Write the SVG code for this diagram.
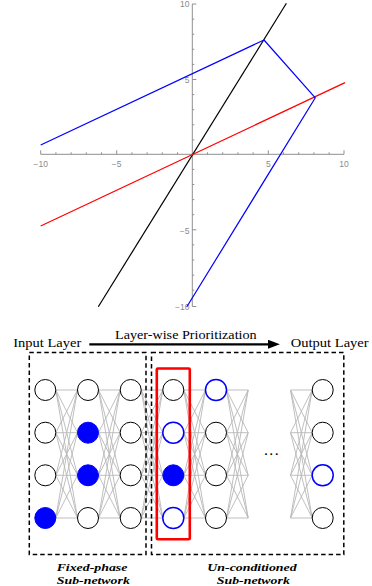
<svg xmlns="http://www.w3.org/2000/svg" width="372" height="586" viewBox="0 0 372 586">
<defs>
<style>
.ax{stroke:#8f8f8f;stroke-width:1;fill:none}
.al{font-family:"Liberation Sans",Arial,sans-serif;font-size:8.5px;fill:#8a8a8a}
.e{stroke:#b8b8b8;stroke-width:0.9;fill:none}
.n{fill:#fff;stroke:#000;stroke-width:1}
.nb{fill:#fff;stroke:#0000ff;stroke-width:1.5}
.nf{fill:#0000ff;stroke:#0000ff;stroke-width:1}
.box{fill:none;stroke:#000;stroke-width:1.5;stroke-dasharray:4.5 3}
.t{font-family:"Liberation Serif","Times New Roman",serif;font-size:12.5px;fill:#000}
.lb{font-family:"Liberation Serif","Times New Roman",serif;font-size:11px;font-weight:bold;font-style:italic;fill:#000}
</style>
<marker id="ah" viewBox="0 0 10 10" refX="1" refY="5" markerWidth="5.5" markerHeight="4.2" orient="auto" markerUnits="strokeWidth" preserveAspectRatio="none">
<path d="M0 0L10 5L0 10z" fill="#000"/>
</marker>
</defs>
<rect width="372" height="586" fill="#fff"/>

<g id="plot">
<path class="ax" d="M40.7 154.3H344M192.3 4V306.5"/>
<path class="ax" d="M40.7 154.3v-4M55.9 154.3v-2M71.1 154.3v-2M86.3 154.3v-2M101.5 154.3v-2M116.7 154.3v-4M131.9 154.3v-2M147.1 154.3v-2M162.3 154.3v-2M177.5 154.3v-2M207.5 154.3v-2M222.7 154.3v-2M237.9 154.3v-2M253.1 154.3v-2M268.3 154.3v-4M283.5 154.3v-2M298.7 154.3v-2M313.9 154.3v-2M329.1 154.3v-2M344 154.3v-4"/>
<path class="ax" d="M192.3 4h4M192.3 19.1h2M192.3 34.2h2M192.3 49.3h2M192.3 64.4h2M192.3 79.5h4M192.3 94.6h2M192.3 109.7h2M192.3 124.8h2M192.3 139.9h2M192.3 169.4h2M192.3 184.5h2M192.3 199.6h2M192.3 214.7h2M192.3 229.8h4M192.3 244.9h2M192.3 260h2M192.3 275.1h2M192.3 290.2h2M192.3 306.5h4"/>
<text class="al" x="40.7" y="166.5" text-anchor="middle">−10</text>
<text class="al" x="116.7" y="166.5" text-anchor="middle">−5</text>
<text class="al" x="268.3" y="166.5" text-anchor="middle">5</text>
<text class="al" x="344" y="166.5" text-anchor="middle">10</text>
<text class="al" x="189.5" y="7" text-anchor="end">10</text>
<text class="al" x="189.5" y="82.5" text-anchor="end">5</text>
<text class="al" x="189.5" y="234" text-anchor="end">−5</text>
<text class="al" x="189.5" y="310" text-anchor="end">−10</text>
<path d="M98.3 306.7L286.4 3.3" stroke="#000" stroke-width="1.2" fill="none"/>
<path d="M40.7 226L345 82.6" stroke="#ff0000" stroke-width="1.2" fill="none"/>
<path d="M40.7 145L264 40L315.3 97.8L186.7 307" stroke="#0000ff" stroke-width="1.2" fill="none" stroke-linejoin="round"/>
</g>

<g id="titles">
<text class="t" x="13.3" y="347" textLength="68" lengthAdjust="spacingAndGlyphs">Input Layer</text>
<text class="t" x="115" y="339" textLength="141.7" lengthAdjust="spacingAndGlyphs">Layer-wise Prioritization</text>
<text class="t" x="290.7" y="347" textLength="78" lengthAdjust="spacingAndGlyphs">Output Layer</text>
<text class="lb" x="92" y="570.5" text-anchor="middle" textLength="70.7" lengthAdjust="spacingAndGlyphs">Fixed-phase</text>
<text class="lb" x="93.3" y="583.5" text-anchor="middle" textLength="73" lengthAdjust="spacingAndGlyphs">Sub-network</text>
<text class="lb" x="252" y="570.5" text-anchor="middle" textLength="89.3" lengthAdjust="spacingAndGlyphs">Un-conditioned</text>
<text class="lb" x="253.3" y="583.5" text-anchor="middle" textLength="73" lengthAdjust="spacingAndGlyphs">Sub-network</text>
<text x="271.3" y="457" text-anchor="middle" font-family="'DejaVu Sans',sans-serif" font-size="9px" font-weight="bold" fill="#000" textLength="14" lengthAdjust="spacing">· · ·</text>
</g>

<g id="connectors">
<path d="M89.3 344.3H269" stroke="#000" stroke-width="2.2" fill="none" marker-end="url(#ah)"/>
<path class="e" d="M55.8 390L77.5 390M55.8 390L77.5 432.7M55.8 390L77.5 475.3M55.8 390L77.5 518M55.8 432.7L77.5 390M55.8 432.7L77.5 432.7M55.8 432.7L77.5 475.3M55.8 432.7L77.5 518M55.8 475.3L77.5 390M55.8 475.3L77.5 432.7M55.8 475.3L77.5 475.3M55.8 475.3L77.5 518M55.8 518L77.5 390M55.8 518L77.5 432.7M55.8 518L77.5 475.3M55.8 518L77.5 518"/>
<path class="e" d="M98.5 390L120.2 390M98.5 390L120.2 432.7M98.5 390L120.2 475.3M98.5 390L120.2 518M98.5 432.7L120.2 390M98.5 432.7L120.2 432.7M98.5 432.7L120.2 475.3M98.5 432.7L120.2 518M98.5 475.3L120.2 390M98.5 475.3L120.2 432.7M98.5 475.3L120.2 475.3M98.5 475.3L120.2 518M98.5 518L120.2 390M98.5 518L120.2 432.7M98.5 518L120.2 475.3M98.5 518L120.2 518"/>
<path class="e" d="M141.2 390L162.8 390M141.2 390L162.8 432.7M141.2 390L162.8 475.3M141.2 390L162.8 518M141.2 432.7L162.8 390M141.2 432.7L162.8 432.7M141.2 432.7L162.8 475.3M141.2 432.7L162.8 518M141.2 475.3L162.8 390M141.2 475.3L162.8 432.7M141.2 475.3L162.8 475.3M141.2 475.3L162.8 518M141.2 518L162.8 390M141.2 518L162.8 432.7M141.2 518L162.8 475.3M141.2 518L162.8 518"/>
<path class="e" d="M183.8 390L205.5 390M183.8 390L205.5 432.7M183.8 390L205.5 475.3M183.8 390L205.5 518M183.8 432.7L205.5 390M183.8 432.7L205.5 432.7M183.8 432.7L205.5 475.3M183.8 432.7L205.5 518M183.8 475.3L205.5 390M183.8 475.3L205.5 432.7M183.8 475.3L205.5 475.3M183.8 475.3L205.5 518M183.8 518L205.5 390M183.8 518L205.5 432.7M183.8 518L205.5 475.3M183.8 518L205.5 518"/>
<path class="e" d="M226.5 390L248.2 390M226.5 390L248.2 432.7M226.5 390L248.2 475.3M226.5 390L248.2 518M226.5 432.7L248.2 390M226.5 432.7L248.2 432.7M226.5 432.7L248.2 475.3M226.5 432.7L248.2 518M226.5 475.3L248.2 390M226.5 475.3L248.2 432.7M226.5 475.3L248.2 475.3M226.5 475.3L248.2 518M226.5 518L248.2 390M226.5 518L248.2 432.7M226.5 518L248.2 475.3M226.5 518L248.2 518"/>
<path class="e" d="M290.5 390L312.2 390M290.5 390L312.2 432.7M290.5 390L312.2 475.3M290.5 390L312.2 518M290.5 432.7L312.2 390M290.5 432.7L312.2 432.7M290.5 432.7L312.2 475.3M290.5 432.7L312.2 518M290.5 475.3L312.2 390M290.5 475.3L312.2 432.7M290.5 475.3L312.2 475.3M290.5 475.3L312.2 518M290.5 518L312.2 390M290.5 518L312.2 432.7M290.5 518L312.2 475.3M290.5 518L312.2 518"/>
</g>

<g id="boxes">
<rect id="fixed-box" class="box" x="29.3" y="352.5" width="116.7" height="202"/>
<rect id="uncond-box" class="box" x="151.5" y="352.5" width="192.3" height="202"/>
<rect id="red-box" x="156.8" y="368.5" width="33" height="170.8" rx="1" fill="none" stroke="#ff0000" stroke-width="2.6"/>
</g>

<g id="nodes">
<circle id="n11" class="n" cx="45.3" cy="390" r="10.5"/>
<circle id="n12" class="n" cx="45.3" cy="432.7" r="10.5"/>
<circle id="n13" class="n" cx="45.3" cy="475.3" r="10.5"/>
<circle id="n14" class="nf" cx="45.3" cy="518" r="10.5"/>
<circle id="n21" class="n" cx="88" cy="390" r="10.5"/>
<circle id="n22" class="nf" cx="88" cy="432.7" r="10.5"/>
<circle id="n23" class="nf" cx="88" cy="475.3" r="10.5"/>
<circle id="n24" class="n" cx="88" cy="518" r="10.5"/>
<circle id="n31" class="n" cx="130.7" cy="390" r="10.5"/>
<circle id="n32" class="n" cx="130.7" cy="432.7" r="10.5"/>
<circle id="n33" class="n" cx="130.7" cy="475.3" r="10.5"/>
<circle id="n34" class="n" cx="130.7" cy="518" r="10.5"/>
<circle id="n41" class="n" cx="173.3" cy="390" r="10.5"/>
<circle id="n42" class="nb" cx="173.3" cy="432.7" r="10.5"/>
<circle id="n43" class="nf" cx="173.3" cy="475.3" r="10.5"/>
<circle id="n44" class="nb" cx="173.3" cy="518" r="10.5"/>
<circle id="n51" class="nb" cx="216" cy="390" r="10.5"/>
<circle id="n52" class="n" cx="216" cy="432.7" r="10.5"/>
<circle id="n53" class="n" cx="216" cy="475.3" r="10.5"/>
<circle id="n54" class="n" cx="216" cy="518" r="10.5"/>
<circle id="n61" class="n" cx="322.7" cy="390" r="10.5"/>
<circle id="n62" class="n" cx="322.7" cy="432.7" r="10.5"/>
<circle id="n63" class="nb" cx="322.7" cy="475.3" r="10.5"/>
<circle id="n64" class="n" cx="322.7" cy="518" r="10.5"/>
</g>
</svg>
